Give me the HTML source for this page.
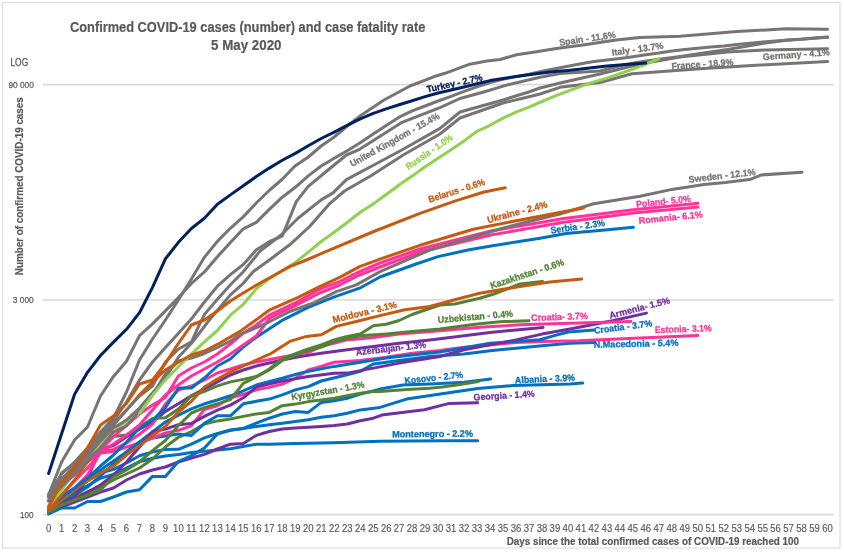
<!DOCTYPE html>
<html><head><meta charset="utf-8"><style>
html,body{margin:0;padding:0;background:#fff;width:844px;height:554px;overflow:hidden}
svg{display:block;will-change:transform}
text{font-family:"Liberation Sans",sans-serif}
</style></head><body>
<svg width="844" height="554" viewBox="0 0 844 554">
<rect x="2.5" y="2.5" width="837.5" height="545.5" fill="none" stroke="#d9d9d9" stroke-width="1"/>
<line x1="43" y1="514.6" x2="834" y2="514.6" stroke="#dcdcdc" stroke-width="1.8"/>
<line x1="43" y1="299.9" x2="834" y2="299.9" stroke="#dcdcdc" stroke-width="1.8"/>
<line x1="43" y1="84.6" x2="834" y2="84.6" stroke="#dcdcdc" stroke-width="1.8"/>
<text x="70" y="31.8" font-weight="bold" font-size="14" fill="#595959" stroke="#595959" stroke-width="0.2" textLength="355.3" lengthAdjust="spacingAndGlyphs">Confirmed COVID-19 cases (number) and case fatality rate</text>
<text x="211" y="49.8" font-weight="bold" font-size="14" fill="#595959" stroke="#595959" stroke-width="0.2" textLength="70.5" lengthAdjust="spacingAndGlyphs">5 May 2020</text>
<text x="10.4" y="66.4" font-size="10.2" fill="#595959" stroke="#595959" stroke-width="0.25" textLength="17.8" lengthAdjust="spacingAndGlyphs">LOG</text>
<text x="8.4" y="87.9" font-size="9.6" fill="#595959" stroke="#595959" stroke-width="0.25" textLength="25.5" lengthAdjust="spacingAndGlyphs">90 000</text>
<text x="12.8" y="303.4" font-size="9.6" fill="#595959" stroke="#595959" stroke-width="0.25" textLength="21" lengthAdjust="spacingAndGlyphs">3 000</text>
<text x="20" y="517.8" font-size="9.6" fill="#595959" stroke="#595959" stroke-width="0.25" textLength="13.5" lengthAdjust="spacingAndGlyphs">100</text>
<text transform="translate(22.8,275.2) rotate(-90)" x="0" y="0" font-weight="bold" font-size="11.5" fill="#595959" stroke="#595959" stroke-width="0.2" textLength="178" lengthAdjust="spacingAndGlyphs">Number of confirmed COVID-19 cases</text>
<text x="48.6" y="532.2" font-size="10.3" fill="#595959" stroke="#595959" stroke-width="0.15" text-anchor="middle" textLength="5.3" lengthAdjust="spacingAndGlyphs">0</text>
<text x="61.6" y="532.2" font-size="10.3" fill="#595959" stroke="#595959" stroke-width="0.15" text-anchor="middle" textLength="5.3" lengthAdjust="spacingAndGlyphs">1</text>
<text x="74.6" y="532.2" font-size="10.3" fill="#595959" stroke="#595959" stroke-width="0.15" text-anchor="middle" textLength="5.3" lengthAdjust="spacingAndGlyphs">2</text>
<text x="87.5" y="532.2" font-size="10.3" fill="#595959" stroke="#595959" stroke-width="0.15" text-anchor="middle" textLength="5.3" lengthAdjust="spacingAndGlyphs">3</text>
<text x="100.5" y="532.2" font-size="10.3" fill="#595959" stroke="#595959" stroke-width="0.15" text-anchor="middle" textLength="5.3" lengthAdjust="spacingAndGlyphs">4</text>
<text x="113.5" y="532.2" font-size="10.3" fill="#595959" stroke="#595959" stroke-width="0.15" text-anchor="middle" textLength="5.3" lengthAdjust="spacingAndGlyphs">5</text>
<text x="126.5" y="532.2" font-size="10.3" fill="#595959" stroke="#595959" stroke-width="0.15" text-anchor="middle" textLength="5.3" lengthAdjust="spacingAndGlyphs">6</text>
<text x="139.5" y="532.2" font-size="10.3" fill="#595959" stroke="#595959" stroke-width="0.15" text-anchor="middle" textLength="5.3" lengthAdjust="spacingAndGlyphs">7</text>
<text x="152.5" y="532.2" font-size="10.3" fill="#595959" stroke="#595959" stroke-width="0.15" text-anchor="middle" textLength="5.3" lengthAdjust="spacingAndGlyphs">8</text>
<text x="165.4" y="532.2" font-size="10.3" fill="#595959" stroke="#595959" stroke-width="0.15" text-anchor="middle" textLength="5.3" lengthAdjust="spacingAndGlyphs">9</text>
<text x="178.4" y="532.2" font-size="10.3" fill="#595959" stroke="#595959" stroke-width="0.15" text-anchor="middle" textLength="10.6" lengthAdjust="spacingAndGlyphs">10</text>
<text x="191.4" y="532.2" font-size="10.3" fill="#595959" stroke="#595959" stroke-width="0.15" text-anchor="middle" textLength="10.6" lengthAdjust="spacingAndGlyphs">11</text>
<text x="204.4" y="532.2" font-size="10.3" fill="#595959" stroke="#595959" stroke-width="0.15" text-anchor="middle" textLength="10.6" lengthAdjust="spacingAndGlyphs">12</text>
<text x="217.4" y="532.2" font-size="10.3" fill="#595959" stroke="#595959" stroke-width="0.15" text-anchor="middle" textLength="10.6" lengthAdjust="spacingAndGlyphs">13</text>
<text x="230.4" y="532.2" font-size="10.3" fill="#595959" stroke="#595959" stroke-width="0.15" text-anchor="middle" textLength="10.6" lengthAdjust="spacingAndGlyphs">14</text>
<text x="243.3" y="532.2" font-size="10.3" fill="#595959" stroke="#595959" stroke-width="0.15" text-anchor="middle" textLength="10.6" lengthAdjust="spacingAndGlyphs">15</text>
<text x="256.3" y="532.2" font-size="10.3" fill="#595959" stroke="#595959" stroke-width="0.15" text-anchor="middle" textLength="10.6" lengthAdjust="spacingAndGlyphs">16</text>
<text x="269.3" y="532.2" font-size="10.3" fill="#595959" stroke="#595959" stroke-width="0.15" text-anchor="middle" textLength="10.6" lengthAdjust="spacingAndGlyphs">17</text>
<text x="282.3" y="532.2" font-size="10.3" fill="#595959" stroke="#595959" stroke-width="0.15" text-anchor="middle" textLength="10.6" lengthAdjust="spacingAndGlyphs">18</text>
<text x="295.3" y="532.2" font-size="10.3" fill="#595959" stroke="#595959" stroke-width="0.15" text-anchor="middle" textLength="10.6" lengthAdjust="spacingAndGlyphs">19</text>
<text x="308.3" y="532.2" font-size="10.3" fill="#595959" stroke="#595959" stroke-width="0.15" text-anchor="middle" textLength="10.6" lengthAdjust="spacingAndGlyphs">20</text>
<text x="321.2" y="532.2" font-size="10.3" fill="#595959" stroke="#595959" stroke-width="0.15" text-anchor="middle" textLength="10.6" lengthAdjust="spacingAndGlyphs">21</text>
<text x="334.2" y="532.2" font-size="10.3" fill="#595959" stroke="#595959" stroke-width="0.15" text-anchor="middle" textLength="10.6" lengthAdjust="spacingAndGlyphs">22</text>
<text x="347.2" y="532.2" font-size="10.3" fill="#595959" stroke="#595959" stroke-width="0.15" text-anchor="middle" textLength="10.6" lengthAdjust="spacingAndGlyphs">23</text>
<text x="360.2" y="532.2" font-size="10.3" fill="#595959" stroke="#595959" stroke-width="0.15" text-anchor="middle" textLength="10.6" lengthAdjust="spacingAndGlyphs">24</text>
<text x="373.2" y="532.2" font-size="10.3" fill="#595959" stroke="#595959" stroke-width="0.15" text-anchor="middle" textLength="10.6" lengthAdjust="spacingAndGlyphs">25</text>
<text x="386.2" y="532.2" font-size="10.3" fill="#595959" stroke="#595959" stroke-width="0.15" text-anchor="middle" textLength="10.6" lengthAdjust="spacingAndGlyphs">26</text>
<text x="399.1" y="532.2" font-size="10.3" fill="#595959" stroke="#595959" stroke-width="0.15" text-anchor="middle" textLength="10.6" lengthAdjust="spacingAndGlyphs">27</text>
<text x="412.1" y="532.2" font-size="10.3" fill="#595959" stroke="#595959" stroke-width="0.15" text-anchor="middle" textLength="10.6" lengthAdjust="spacingAndGlyphs">28</text>
<text x="425.1" y="532.2" font-size="10.3" fill="#595959" stroke="#595959" stroke-width="0.15" text-anchor="middle" textLength="10.6" lengthAdjust="spacingAndGlyphs">29</text>
<text x="438.1" y="532.2" font-size="10.3" fill="#595959" stroke="#595959" stroke-width="0.15" text-anchor="middle" textLength="10.6" lengthAdjust="spacingAndGlyphs">30</text>
<text x="451.1" y="532.2" font-size="10.3" fill="#595959" stroke="#595959" stroke-width="0.15" text-anchor="middle" textLength="10.6" lengthAdjust="spacingAndGlyphs">31</text>
<text x="464.1" y="532.2" font-size="10.3" fill="#595959" stroke="#595959" stroke-width="0.15" text-anchor="middle" textLength="10.6" lengthAdjust="spacingAndGlyphs">32</text>
<text x="477.0" y="532.2" font-size="10.3" fill="#595959" stroke="#595959" stroke-width="0.15" text-anchor="middle" textLength="10.6" lengthAdjust="spacingAndGlyphs">33</text>
<text x="490.0" y="532.2" font-size="10.3" fill="#595959" stroke="#595959" stroke-width="0.15" text-anchor="middle" textLength="10.6" lengthAdjust="spacingAndGlyphs">34</text>
<text x="503.0" y="532.2" font-size="10.3" fill="#595959" stroke="#595959" stroke-width="0.15" text-anchor="middle" textLength="10.6" lengthAdjust="spacingAndGlyphs">35</text>
<text x="516.0" y="532.2" font-size="10.3" fill="#595959" stroke="#595959" stroke-width="0.15" text-anchor="middle" textLength="10.6" lengthAdjust="spacingAndGlyphs">36</text>
<text x="529.0" y="532.2" font-size="10.3" fill="#595959" stroke="#595959" stroke-width="0.15" text-anchor="middle" textLength="10.6" lengthAdjust="spacingAndGlyphs">37</text>
<text x="542.0" y="532.2" font-size="10.3" fill="#595959" stroke="#595959" stroke-width="0.15" text-anchor="middle" textLength="10.6" lengthAdjust="spacingAndGlyphs">38</text>
<text x="554.9" y="532.2" font-size="10.3" fill="#595959" stroke="#595959" stroke-width="0.15" text-anchor="middle" textLength="10.6" lengthAdjust="spacingAndGlyphs">39</text>
<text x="567.9" y="532.2" font-size="10.3" fill="#595959" stroke="#595959" stroke-width="0.15" text-anchor="middle" textLength="10.6" lengthAdjust="spacingAndGlyphs">40</text>
<text x="580.9" y="532.2" font-size="10.3" fill="#595959" stroke="#595959" stroke-width="0.15" text-anchor="middle" textLength="10.6" lengthAdjust="spacingAndGlyphs">41</text>
<text x="593.9" y="532.2" font-size="10.3" fill="#595959" stroke="#595959" stroke-width="0.15" text-anchor="middle" textLength="10.6" lengthAdjust="spacingAndGlyphs">42</text>
<text x="606.9" y="532.2" font-size="10.3" fill="#595959" stroke="#595959" stroke-width="0.15" text-anchor="middle" textLength="10.6" lengthAdjust="spacingAndGlyphs">43</text>
<text x="619.9" y="532.2" font-size="10.3" fill="#595959" stroke="#595959" stroke-width="0.15" text-anchor="middle" textLength="10.6" lengthAdjust="spacingAndGlyphs">44</text>
<text x="632.8" y="532.2" font-size="10.3" fill="#595959" stroke="#595959" stroke-width="0.15" text-anchor="middle" textLength="10.6" lengthAdjust="spacingAndGlyphs">45</text>
<text x="645.8" y="532.2" font-size="10.3" fill="#595959" stroke="#595959" stroke-width="0.15" text-anchor="middle" textLength="10.6" lengthAdjust="spacingAndGlyphs">46</text>
<text x="658.8" y="532.2" font-size="10.3" fill="#595959" stroke="#595959" stroke-width="0.15" text-anchor="middle" textLength="10.6" lengthAdjust="spacingAndGlyphs">47</text>
<text x="671.8" y="532.2" font-size="10.3" fill="#595959" stroke="#595959" stroke-width="0.15" text-anchor="middle" textLength="10.6" lengthAdjust="spacingAndGlyphs">48</text>
<text x="684.8" y="532.2" font-size="10.3" fill="#595959" stroke="#595959" stroke-width="0.15" text-anchor="middle" textLength="10.6" lengthAdjust="spacingAndGlyphs">49</text>
<text x="697.8" y="532.2" font-size="10.3" fill="#595959" stroke="#595959" stroke-width="0.15" text-anchor="middle" textLength="10.6" lengthAdjust="spacingAndGlyphs">50</text>
<text x="710.7" y="532.2" font-size="10.3" fill="#595959" stroke="#595959" stroke-width="0.15" text-anchor="middle" textLength="10.6" lengthAdjust="spacingAndGlyphs">51</text>
<text x="723.7" y="532.2" font-size="10.3" fill="#595959" stroke="#595959" stroke-width="0.15" text-anchor="middle" textLength="10.6" lengthAdjust="spacingAndGlyphs">52</text>
<text x="736.7" y="532.2" font-size="10.3" fill="#595959" stroke="#595959" stroke-width="0.15" text-anchor="middle" textLength="10.6" lengthAdjust="spacingAndGlyphs">53</text>
<text x="749.7" y="532.2" font-size="10.3" fill="#595959" stroke="#595959" stroke-width="0.15" text-anchor="middle" textLength="10.6" lengthAdjust="spacingAndGlyphs">54</text>
<text x="762.7" y="532.2" font-size="10.3" fill="#595959" stroke="#595959" stroke-width="0.15" text-anchor="middle" textLength="10.6" lengthAdjust="spacingAndGlyphs">55</text>
<text x="775.6" y="532.2" font-size="10.3" fill="#595959" stroke="#595959" stroke-width="0.15" text-anchor="middle" textLength="10.6" lengthAdjust="spacingAndGlyphs">56</text>
<text x="788.6" y="532.2" font-size="10.3" fill="#595959" stroke="#595959" stroke-width="0.15" text-anchor="middle" textLength="10.6" lengthAdjust="spacingAndGlyphs">57</text>
<text x="801.6" y="532.2" font-size="10.3" fill="#595959" stroke="#595959" stroke-width="0.15" text-anchor="middle" textLength="10.6" lengthAdjust="spacingAndGlyphs">58</text>
<text x="814.6" y="532.2" font-size="10.3" fill="#595959" stroke="#595959" stroke-width="0.15" text-anchor="middle" textLength="10.6" lengthAdjust="spacingAndGlyphs">59</text>
<text x="827.6" y="532.2" font-size="10.3" fill="#595959" stroke="#595959" stroke-width="0.15" text-anchor="middle" textLength="10.6" lengthAdjust="spacingAndGlyphs">60</text>
<text x="506.7" y="544.9" font-weight="bold" font-size="10.2" fill="#595959" stroke="#595959" stroke-width="0.2" textLength="292.3" lengthAdjust="spacingAndGlyphs">Days since the total confirmed cases of COVID-19 reached 100</text>
<polyline points="48.6,509.0 61.6,500.0 74.6,492.0 87.5,485.7 100.5,478.2 113.5,474.4 126.5,468.0 139.5,461.7 152.5,458.2 165.4,456.0 178.4,454.4 191.4,452.5 204.4,451.2 217.4,450.0 230.4,448.7 256.3,444.3 269.3,444.3 295.3,443.6 334.2,442.8 380.0,441.2 442.2,440.7 477.7,440.7" fill="none" stroke="#0070C0" stroke-width="3.0" stroke-linejoin="round" stroke-linecap="round"/>
<polyline points="48.6,512.0 61.6,507.0 74.6,502.0 87.5,497.0 100.5,492.0 113.5,488.0 126.5,480.0 139.5,474.0 152.5,470.0 165.4,467.0 178.4,462.0 191.4,458.0 204.4,454.4 217.4,449.0 230.4,444.2 243.3,443.6 256.3,435.4 269.3,431.5 282.3,429.0 295.3,428.1 308.3,427.3 321.2,426.5 334.2,425.6 347.2,424.0 360.3,420.7 373.3,418.2 381.8,415.1 424.4,409.8 449.3,403.4 477.7,402.7" fill="none" stroke="#7030A0" stroke-width="3.0" stroke-linejoin="round" stroke-linecap="round"/>
<polyline points="48.6,512.0 61.6,500.0 74.6,490.0 87.5,480.7 100.5,473.1 113.5,469.3 126.5,463.0 139.5,455.7 152.5,452.0 165.4,449.4 178.4,449.3 191.4,444.2 204.4,437.9 217.4,433.5 230.4,430.3 243.3,428.4 256.3,426.5 269.3,424.8 282.3,423.2 295.3,421.5 308.3,419.8 321.2,417.3 334.2,415.7 347.2,413.2 360.3,409.9 380.0,407.4 406.6,399.1 442.2,393.8 477.7,388.4 513.3,385.6 570.0,383.9 582.6,383.1" fill="none" stroke="#0070C0" stroke-width="3.0" stroke-linejoin="round" stroke-linecap="round"/>
<polyline points="48.6,514.0 61.6,508.0 74.6,508.0 87.5,501.5 100.5,501.5 113.5,497.0 126.5,492.0 139.5,489.7 152.5,476.4 165.4,476.4 178.4,461.5 191.4,455.6 204.4,448.0 217.4,434.1 230.4,430.0 243.3,428.4 256.3,423.2 269.3,418.2 282.3,414.0 295.3,411.5 308.3,412.4 321.2,402.4 334.2,400.7 347.2,398.2 360.3,394.1 380.0,389.1 403.0,384.9 430.0,383.9 464.1,382.2 490.6,378.9" fill="none" stroke="#0070C0" stroke-width="3.0" stroke-linejoin="round" stroke-linecap="round"/>
<polyline points="48.6,510.0 61.6,502.0 74.6,497.0 87.5,492.0 100.5,487.0 113.5,480.0 126.5,474.0 139.5,468.0 152.5,459.0 165.4,447.0 178.4,437.3 191.4,431.6 204.4,424.0 217.4,420.9 230.4,419.0 243.3,416.4 256.3,413.9 269.3,412.4 282.3,405.7 295.3,404.1 308.3,401.6 321.2,399.9 334.2,398.2 347.2,395.7 360.3,393.3 373.3,391.6 380.0,391.5 406.6,389.5 430.0,388.2 442.2,387.0 460.0,384.5 478.2,381.6" fill="none" stroke="#548235" stroke-width="3.0" stroke-linejoin="round" stroke-linecap="round"/>
<polyline points="48.6,510.0 61.6,503.0 74.6,495.0 87.5,487.0 100.5,476.0 113.5,464.0 126.5,452.0 139.5,442.0 152.5,438.0 165.4,436.0 178.4,434.1 191.4,435.4 204.4,423.4 217.4,415.8 230.4,415.8 243.3,403.8 256.3,401.3 269.3,399.1 282.3,394.9 295.3,389.9 308.3,386.6 321.2,381.0 347.2,374.8 360.3,371.4 373.3,364.0 399.2,360.6 430.0,356.5 464.1,354.0 490.0,350.7 516.0,348.2 542.0,345.7 570.0,343.2 594.0,342.4" fill="none" stroke="#0070C0" stroke-width="3.0" stroke-linejoin="round" stroke-linecap="round"/>
<polyline points="48.6,509.0 61.6,495.0 74.6,481.0 87.5,468.0 100.5,453.0 113.5,451.6 126.5,447.0 139.5,443.0 152.5,438.0 165.4,433.0 178.4,430.3 191.4,425.9 204.4,409.5 217.4,405.7 230.4,398.0 243.3,394.3 256.3,389.9 269.3,387.4 282.3,384.1 295.3,378.3 308.3,370.0 321.2,366.4 334.2,362.3 360.3,360.6 386.2,357.3 412.1,353.2 440.0,350.5 464.1,347.3 490.0,344.9 516.0,342.4 542.0,341.5 578.6,340.8 640.0,338.0 698.0,335.5" fill="none" stroke="#FF3399" stroke-width="3.0" stroke-linejoin="round" stroke-linecap="round"/>
<polyline points="48.6,501.0 61.6,497.0 74.6,490.0 87.5,480.0 100.5,470.0 113.5,461.0 126.5,452.0 139.5,442.0 152.5,432.0 165.4,422.0 178.4,415.2 191.4,408.8 204.4,403.8 217.4,400.0 230.4,395.8 243.3,390.8 256.3,385.0 282.3,378.3 300.0,373.1 321.2,368.9 334.2,366.4 360.3,362.3 386.2,358.1 412.1,355.0 440.0,352.0 490.0,343.2 516.0,341.5 540.0,339.8 554.2,335.6 568.4,332.0 594.0,330.0" fill="none" stroke="#0070C0" stroke-width="3.0" stroke-linejoin="round" stroke-linecap="round"/>
<polyline points="48.6,511.0 61.6,506.0 74.6,500.0 87.5,492.0 100.5,485.0 113.5,475.0 126.5,462.0 139.5,447.0 152.5,431.7 165.4,429.1 178.4,424.7 191.4,423.4 204.4,416.4 217.4,410.1 230.4,405.1 243.3,397.8 256.3,387.0 282.3,381.0 308.3,376.6 334.2,373.3 347.2,373.1 373.3,368.1 399.2,363.1 440.0,356.5 464.1,349.8 490.0,344.9 516.0,339.9 542.0,334.1 570.0,329.1 612.5,320.8 646.4,313.1" fill="none" stroke="#7030A0" stroke-width="3.0" stroke-linejoin="round" stroke-linecap="round"/>
<polyline points="48.6,511.0 61.6,504.0 74.6,497.0 87.5,478.0 100.5,449.4 113.5,445.6 126.5,436.7 139.5,429.1 152.5,422.2 165.4,411.4 178.4,403.8 191.4,395.8 204.4,388.9 217.4,381.9 230.4,375.0 243.3,370.0 256.3,366.0 282.3,360.0 300.0,356.5 321.2,353.2 347.2,349.8 373.3,346.5 399.2,343.2 430.0,339.9 464.1,335.7 490.0,332.4 516.0,329.9 543.0,327.4" fill="none" stroke="#7030A0" stroke-width="3.0" stroke-linejoin="round" stroke-linecap="round"/>
<polyline points="48.6,508.0 61.6,497.0 74.6,488.0 87.5,475.0 100.5,452.0 113.5,449.4 126.5,443.0 139.5,434.2 152.5,424.1 165.4,404.0 178.4,390.0 191.4,386.0 204.4,380.0 217.4,373.0 230.4,369.0 243.3,365.0 256.3,362.0 283.0,357.0 309.8,352.0 321.2,346.5 347.2,339.9 373.3,337.4 399.2,334.1 440.0,330.7 479.7,327.2 520.0,324.8 570.0,323.3 631.0,321.4" fill="none" stroke="#FF3399" stroke-width="3.0" stroke-linejoin="round" stroke-linecap="round"/>
<polyline points="48.6,512.0 61.6,505.0 74.6,500.0 87.5,495.0 100.5,490.0 113.5,477.0 126.5,470.0 139.5,462.0 152.5,450.6 165.4,440.5 178.4,425.5 191.4,413.0 204.4,407.6 217.4,403.8 230.4,399.5 243.3,383.4 256.3,377.0 269.3,370.0 283.0,360.0 302.9,352.0 321.2,347.0 334.2,341.5 360.3,335.7 386.2,334.1 412.1,331.6 440.0,329.0 477.1,324.1 503.0,321.6 529.0,320.8" fill="none" stroke="#548235" stroke-width="3.0" stroke-linejoin="round" stroke-linecap="round"/>
<polyline points="48.6,510.0 61.6,473.0 74.6,463.0 87.5,454.0 100.5,445.0 113.5,436.5 126.5,435.0 139.5,427.0 152.5,418.4 165.4,417.8 178.4,409.0 191.4,396.0 204.4,391.3 217.4,385.9 230.4,381.9 243.3,379.4 256.3,376.5 268.0,369.9 283.0,358.3 302.9,350.8 321.2,344.9 334.2,339.9 347.2,336.5 360.3,334.1 373.3,325.7 386.2,324.2 399.2,320.5 412.1,314.5 425.1,310.0 440.0,305.0 454.8,304.0 479.7,298.2 496.3,293.2 520.0,284.0 542.6,281.6" fill="none" stroke="#548235" stroke-width="3.0" stroke-linejoin="round" stroke-linecap="round"/>
<polyline points="48.6,511.0 61.6,500.0 74.6,490.0 87.5,481.0 100.5,473.0 113.5,466.0 126.5,455.0 139.5,445.6 152.5,435.5 165.4,426.6 178.4,412.0 191.4,401.3 204.4,387.0 217.4,379.0 230.4,372.0 243.3,366.0 256.3,360.0 271.4,353.3 289.8,341.4 306.4,336.4 321.4,334.8 336.3,326.4 356.3,321.5 380.0,315.6 404.9,309.8 429.8,306.5 454.8,299.8 479.7,293.2 504.6,289.0 520.0,286.5 550.0,282.0 581.7,279.0" fill="none" stroke="#C55A11" stroke-width="3.0" stroke-linejoin="round" stroke-linecap="round"/>
<polyline points="48.6,508.0 61.6,497.0 74.6,488.0 87.5,478.0 100.5,466.0 113.5,455.0 126.5,442.0 139.5,428.0 152.5,420.3 165.4,407.6 178.4,388.0 191.4,388.0 204.4,378.0 217.4,366.0 230.4,359.0 243.3,347.0 256.3,337.2 283.2,319.8 306.4,308.2 333.0,297.4 359.6,288.2 380.0,277.0 413.2,265.0 438.0,256.6 468.0,250.0 491.0,246.0 540.0,238.2 566.0,233.5 605.0,229.9 633.3,227.3" fill="none" stroke="#0070C0" stroke-width="3.0" stroke-linejoin="round" stroke-linecap="round"/>
<polyline points="48.6,510.0 61.6,483.0 74.6,473.0 87.5,461.7 100.5,451.6 113.5,444.0 126.5,435.2 139.5,425.0 152.5,410.0 165.4,395.0 178.4,385.0 191.4,376.0 204.4,369.0 217.4,362.0 230.4,354.0 243.3,345.0 256.3,336.0 269.9,318.0 294.8,306.0 319.7,293.0 339.7,285.0 359.6,275.0 380.0,267.0 420.0,252.0 491.0,235.0 562.2,222.5 633.3,213.0 698.0,207.0" fill="none" stroke="#FF3399" stroke-width="3.0" stroke-linejoin="round" stroke-linecap="round"/>
<polyline points="48.6,506.0 61.6,485.0 74.6,475.0 87.5,462.0 100.5,450.0 113.5,436.7 126.5,425.3 139.5,414.0 152.5,405.1 165.4,397.5 178.4,376.0 191.4,368.0 204.4,362.0 217.4,354.0 230.4,344.0 243.3,333.0 256.3,325.0 269.9,314.8 294.8,303.2 319.7,289.1 339.7,281.6 359.6,271.6 380.0,263.0 420.0,249.0 491.0,231.0 562.2,218.7 633.3,209.8 698.0,203.2" fill="none" stroke="#FF3399" stroke-width="3.0" stroke-linejoin="round" stroke-linecap="round"/>
<polyline points="48.6,510.0 61.6,495.0 74.6,480.0 87.5,462.0 100.5,440.0 113.5,425.0 126.5,410.0 139.5,395.0 152.5,382.0" fill="none" stroke="#C55A11" stroke-width="3.0" stroke-linejoin="round" stroke-linecap="round"/>
<polyline points="48.6,506.2 61.6,490.1 74.6,471.0 87.5,455.8 100.5,443.8 113.5,432.3 126.5,421.1 139.5,413.4 152.5,395.4" fill="none" stroke="#92D050" stroke-width="3.0" stroke-linejoin="round" stroke-linecap="round"/>
<polyline points="48.6,500.0 61.6,487.0 74.6,474.0 87.5,460.0 100.5,448.0 113.5,432.0 126.5,426.0 139.5,411.0 152.5,395.0 165.4,374.0 178.5,361.0 191.5,358.0 204.5,353.5 217.5,347.5 230.5,341.0 240.0,334.6 264.9,324.0 289.8,311.5 314.8,302.4 336.3,291.6 356.3,284.9 380.0,271.6 429.8,250.0 470.0,238.0 500.0,229.0 526.6,222.0 560.0,214.0 593.6,203.8 640.0,196.3 672.0,189.4 704.0,184.5 725.3,182.4 750.9,179.2 761.6,174.9 802.0,172.2" fill="none" stroke="#787474" stroke-width="3.0" stroke-linejoin="round" stroke-linecap="round"/>
<polyline points="48.6,497.0 61.6,484.0 74.6,471.0 87.5,456.0 100.5,441.0 113.5,428.0 126.5,420.0 139.5,408.0 152.5,393.0 165.4,378.0 178.5,357.0 191.5,343.3 209.3,320.0 230.4,294.9 243.3,283.3 253.1,271.7 269.7,259.7 289.7,244.8 309.6,226.5 330.0,203.3 344.5,191.0 371.0,175.8 403.2,155.0 440.0,134.0 460.0,118.0 503.0,103.0 528.0,97.0 540.0,94.0 560.0,87.3 600.0,82.5 632.0,73.8 700.0,68.8 760.0,65.0 827.6,61.4" fill="none" stroke="#787474" stroke-width="3.0" stroke-linejoin="round" stroke-linecap="round"/>
<polyline points="48.6,497.0 61.6,481.0 74.6,468.0 87.5,452.0 100.5,437.0 113.5,424.0 126.5,410.0 139.5,396.0 152.5,386.0 165.4,362.0 178.5,349.0 191.5,341.9 198.7,326.0 204.5,314.4 217.4,299.2 230.4,284.8 243.3,271.8 259.8,251.4 281.4,234.8 298.0,218.2 321.2,199.9 333.0,192.9 346.4,179.6 374.8,164.5 403.2,149.3 440.0,128.4 460.0,112.0 503.0,100.0 528.7,92.0 540.0,88.0 560.0,83.0 600.0,74.0 640.0,64.0 680.0,57.0 727.4,52.0 765.3,50.0 827.6,48.7" fill="none" stroke="#787474" stroke-width="3.0" stroke-linejoin="round" stroke-linecap="round"/>
<polyline points="48.6,496.0 61.6,479.0 74.6,466.0 87.5,450.0 100.5,435.0 113.5,421.0 126.5,402.0 139.5,380.0 152.5,362.0 165.4,347.6 178.5,333.2 191.5,318.8 204.4,302.0 217.4,286.2 230.4,274.6 243.3,264.5 256.4,249.8 269.7,241.5 282.2,236.1 296.3,201.6 308.0,186.6 325.0,172.5 346.4,155.0 359.6,149.3 380.5,136.0 401.3,122.7 440.0,107.6 460.0,98.5 483.7,92.0 507.4,84.9 540.0,77.3 560.0,73.5 600.0,71.0 622.9,65.0 642.8,61.6 680.0,56.6 727.4,49.6 765.3,43.0 786.2,40.2 827.6,37.3" fill="none" stroke="#787474" stroke-width="3.0" stroke-linejoin="round" stroke-linecap="round"/>
<polyline points="48.6,494.0 61.6,474.0 74.6,462.0 87.5,448.0 100.5,432.0 113.5,418.0 126.5,392.0 139.5,360.0 152.5,339.0 165.4,320.0 178.4,300.0 191.4,279.0 204.4,257.3 217.4,241.4 230.3,228.3 243.2,216.9 256.3,203.0 269.7,190.0 281.4,180.0 295.0,166.0 308.3,157.0 321.2,146.0 334.2,137.0 347.2,126.0 361.5,115.0 384.0,100.0 410.0,86.0 433.6,76.8 445.0,73.3 469.8,64.2 487.0,61.0 500.0,59.5 516.6,54.8 533.2,52.3 558.0,48.2 582.9,44.9 599.5,42.4 616.0,39.9 640.0,37.4 680.0,36.2 736.9,31.6 786.2,28.8 827.6,29.2" fill="none" stroke="#787474" stroke-width="3.0" stroke-linejoin="round" stroke-linecap="round"/>
<polyline points="48.6,495.0 61.6,462.0 74.6,440.0 87.5,427.0 100.5,396.0 113.5,376.4 126.5,361.3 139.5,335.6 152.5,323.9 165.4,310.9 178.4,297.6 191.4,283.5 204.4,271.9 217.4,256.8 230.4,242.6 243.3,228.8 256.3,222.4 269.3,209.4 282.3,197.2 295.3,187.3 308.3,175.9 321.2,166.0 334.2,158.2 347.2,150.7 360.2,142.8 373.2,134.0 386.2,125.4 399.1,117.2 412.1,110.9 425.1,106.0 438.1,101.0 451.1,96.4 464.1,91.3 477.0,86.9 490.0,82.6 503.0,79.2 516.0,76.6 529.0,74.1 542.0,71.3 554.9,68.7 567.9,66.3 580.9,63.8 593.9,61.6 606.9,59.9 619.9,58.4 632.8,56.7 645.8,54.8 658.8,53.1 671.8,51.1 684.8,49.4 697.8,48.2 710.7,47.0 723.7,46.0 736.7,44.5 749.7,43.2 762.7,42.0 775.6,40.9 788.6,40.1 801.6,39.2 814.6,38.0 827.6,37.1" fill="none" stroke="#787474" stroke-width="3.0" stroke-linejoin="round" stroke-linecap="round"/>
<polyline points="139.5,413.4 152.5,395.4 165.4,379.9 178.4,366.7 191.4,354.1 204.4,341.8 217.4,330.5 230.4,315.2 243.3,304.3 256.3,288.8 269.3,278.9 282.3,270.6 295.3,262.4 308.3,252.1 321.2,241.5 334.2,232.3 347.2,222.5 360.2,212.2 373.2,203.9 386.2,194.5 399.1,185.0 412.1,176.1 425.1,166.7 438.1,158.3 451.1,149.7 464.1,140.9 477.0,131.3 490.0,125.3 503.0,118.1 516.0,112.1 529.0,107.1 542.0,101.5 554.9,96.2 567.9,91.1 580.9,86.4 593.9,81.9 606.9,78.1 619.9,73.7 632.8,69.2 645.8,64.1 658.8,58.9" fill="none" stroke="#92D050" stroke-width="3.0" stroke-linejoin="round" stroke-linecap="round"/>
<polyline points="48.6,473.6 61.6,433.7 74.6,394.2 87.5,372.3 100.5,355.5 113.5,342.1 126.5,329.3 139.5,312.7 152.5,287.4 165.4,258.9 178.4,242.3 191.4,228.5 204.4,218.3 217.4,204.2 230.4,194.9 243.3,185.7 256.3,176.6 269.3,168.1 282.3,160.3 295.3,153.4 308.3,145.7 321.2,138.5 334.2,132.1 347.2,125.4 360.2,118.8 373.2,113.3 386.2,108.9 399.1,104.8 412.1,100.8 425.1,96.6 438.1,93.0 451.1,90.0 464.1,87.0 477.0,83.7 490.0,80.6 503.0,78.5 516.0,76.6 529.0,74.7 542.0,73.0 554.9,71.6 567.9,70.4 580.9,69.1 593.9,67.5 606.9,66.1 619.9,64.9 632.8,63.9 645.8,63.1" fill="none" stroke="#002060" stroke-width="3.0" stroke-linejoin="round" stroke-linecap="round"/>
<polyline points="139.5,395.0 152.5,382.0 165.4,370.0 178.4,362.0 191.4,355.0 204.4,351.0 220.0,343.0 240.0,331.4 269.9,309.8 298.1,297.4 319.7,286.6 339.7,277.4 359.6,266.6 380.0,259.1 420.0,245.3 473.3,229.3 526.6,218.7 583.5,208.0" fill="none" stroke="#C55A11" stroke-width="3.0" stroke-linejoin="round" stroke-linecap="round"/>
<polyline points="48.6,507.0 61.6,483.0 74.6,468.0 87.5,448.0 100.5,425.0 113.5,416.0 126.5,403.5 139.5,384.0 152.5,380.0 165.4,363.5 178.4,343.3 191.4,325.0 204.4,320.0 217.4,311.0 230.4,301.0 240.0,295.0 256.6,285.0 273.2,275.8 289.8,266.6 306.4,260.0 330.0,249.8 375.0,231.0 420.0,213.3 455.5,200.9 484.0,192.0 505.3,187.7" fill="none" stroke="#C55A11" stroke-width="3.0" stroke-linejoin="round" stroke-linecap="round"/>
<text transform="translate(559.7,45.8) rotate(-8.2)" font-weight="bold" font-size="9.3" fill="#787474" stroke="#787474" stroke-width="0.3" textLength="57" lengthAdjust="spacingAndGlyphs">Spain - 11,6%</text>
<text transform="translate(612.2,55.8) rotate(-7.9)" font-weight="bold" font-size="9.3" fill="#787474" stroke="#787474" stroke-width="0.3" textLength="52" lengthAdjust="spacingAndGlyphs">Italy - 13.7%</text>
<text transform="translate(671.7,69.4) rotate(-3.9)" font-weight="bold" font-size="9.3" fill="#787474" stroke="#787474" stroke-width="0.3" textLength="62" lengthAdjust="spacingAndGlyphs">France - 18.9%</text>
<text transform="translate(763,60.2) rotate(-4.2)" font-weight="bold" font-size="9.3" fill="#787474" stroke="#787474" stroke-width="0.3" textLength="67" lengthAdjust="spacingAndGlyphs">Germany - 4.1%</text>
<text transform="translate(427.6,92.6) rotate(-12.5)" font-weight="bold" font-size="9.3" fill="#002060" stroke="#002060" stroke-width="0.3" textLength="56.8" lengthAdjust="spacingAndGlyphs">Turkey - 2.7%</text>
<text transform="translate(352.3,167.0) rotate(-29.1)" font-weight="bold" font-size="9.3" fill="#787474" stroke="#787474" stroke-width="0.3" textLength="100.8" lengthAdjust="spacingAndGlyphs">United Kingdom - 15.4%</text>
<text transform="translate(408.6,169.9) rotate(-34.6)" font-weight="bold" font-size="9.3" fill="#92D050" stroke="#92D050" stroke-width="0.3" textLength="54.5" lengthAdjust="spacingAndGlyphs">Russia - 1.0%</text>
<text transform="translate(689.1,182.8) rotate(-6.7)" font-weight="bold" font-size="9.3" fill="#787474" stroke="#787474" stroke-width="0.3" textLength="67.2" lengthAdjust="spacingAndGlyphs">Sweden - 12.1%</text>
<text transform="translate(429.5,202.7) rotate(-17.8)" font-weight="bold" font-size="9.3" fill="#C55A11" stroke="#C55A11" stroke-width="0.3" textLength="59" lengthAdjust="spacingAndGlyphs">Belarus - 0.6%</text>
<text transform="translate(488.2,223.2) rotate(-15.1)" font-weight="bold" font-size="9.3" fill="#C55A11" stroke="#C55A11" stroke-width="0.3" textLength="61.9" lengthAdjust="spacingAndGlyphs">Ukraine - 2.4%</text>
<text transform="translate(636.5,207.5) rotate(-6)" font-weight="bold" font-size="9.3" fill="#FF3399" stroke="#FF3399" stroke-width="0.3" textLength="55" lengthAdjust="spacingAndGlyphs">Poland- 5.0%</text>
<text transform="translate(639.1,223.9) rotate(-5.8)" font-weight="bold" font-size="9.3" fill="#FF3399" stroke="#FF3399" stroke-width="0.3" textLength="64.2" lengthAdjust="spacingAndGlyphs">Romania- 6.1%</text>
<text transform="translate(551,233.6) rotate(-8.2)" font-weight="bold" font-size="9.3" fill="#0070C0" stroke="#0070C0" stroke-width="0.3" textLength="54.8" lengthAdjust="spacingAndGlyphs">Serbia - 2.3%</text>
<text transform="translate(491.4,289.0) rotate(-18.2)" font-weight="bold" font-size="9.3" fill="#548235" stroke="#548235" stroke-width="0.3" textLength="77.2" lengthAdjust="spacingAndGlyphs">Kazakhstan - 0.6%</text>
<text transform="translate(333.6,323.1) rotate(-13.8)" font-weight="bold" font-size="9.3" fill="#C55A11" stroke="#C55A11" stroke-width="0.3" textLength="65.6" lengthAdjust="spacingAndGlyphs">Moldova - 3.1%</text>
<text transform="translate(438,323.1) rotate(-5)" font-weight="bold" font-size="9.3" fill="#548235" stroke="#548235" stroke-width="0.3" textLength="75.6" lengthAdjust="spacingAndGlyphs">Uzbekistan - 0.4%</text>
<text transform="translate(531.2,321.1) rotate(-2.3)" font-weight="bold" font-size="9.3" fill="#FF3399" stroke="#FF3399" stroke-width="0.3" textLength="56.9" lengthAdjust="spacingAndGlyphs">Croatia- 3.7%</text>
<text transform="translate(610.2,318.8) rotate(-14.5)" font-weight="bold" font-size="9.3" fill="#7030A0" stroke="#7030A0" stroke-width="0.3" textLength="62.3" lengthAdjust="spacingAndGlyphs">Armenia- 1.5%</text>
<text transform="translate(594.5,333.8) rotate(-7.3)" font-weight="bold" font-size="9.3" fill="#0070C0" stroke="#0070C0" stroke-width="0.3" textLength="58.5" lengthAdjust="spacingAndGlyphs">Croatia - 3.7%</text>
<text transform="translate(654.9,333.1) rotate(-2)" font-weight="bold" font-size="9.3" fill="#FF3399" stroke="#FF3399" stroke-width="0.3" textLength="57" lengthAdjust="spacingAndGlyphs">Estonia- 3.1%</text>
<text transform="translate(593.7,347.8) rotate(-1.3)" font-weight="bold" font-size="9.3" fill="#0070C0" stroke="#0070C0" stroke-width="0.3" textLength="84.8" lengthAdjust="spacingAndGlyphs">N.Macedonia - 5.4%</text>
<text transform="translate(356.2,355.6) rotate(-6.5)" font-weight="bold" font-size="9.3" fill="#7030A0" stroke="#7030A0" stroke-width="0.3" textLength="70.7" lengthAdjust="spacingAndGlyphs">Azerbaijan- 1.3%</text>
<text transform="translate(292,400.3) rotate(-10)" font-weight="bold" font-size="9.3" fill="#548235" stroke="#548235" stroke-width="0.3" textLength="73.9" lengthAdjust="spacingAndGlyphs">Kyrgyzstan - 1.3%</text>
<text transform="translate(405.1,384.1) rotate(-6.4)" font-weight="bold" font-size="9.3" fill="#0070C0" stroke="#0070C0" stroke-width="0.3" textLength="58.7" lengthAdjust="spacingAndGlyphs">Kosovo - 2.7%</text>
<text transform="translate(515,383.4) rotate(-2.7)" font-weight="bold" font-size="9.3" fill="#0070C0" stroke="#0070C0" stroke-width="0.3" textLength="60.3" lengthAdjust="spacingAndGlyphs">Albania - 3.9%</text>
<text transform="translate(473.8,400.5) rotate(-3.5)" font-weight="bold" font-size="9.3" fill="#7030A0" stroke="#7030A0" stroke-width="0.3" textLength="61.2" lengthAdjust="spacingAndGlyphs">Georgia - 1.4%</text>
<text transform="translate(392.2,437.4) rotate(-0.6)" font-weight="bold" font-size="9.3" fill="#0070C0" stroke="#0070C0" stroke-width="0.3" textLength="80.8" lengthAdjust="spacingAndGlyphs">Montenegro - 2.2%</text>
</svg></body></html>
